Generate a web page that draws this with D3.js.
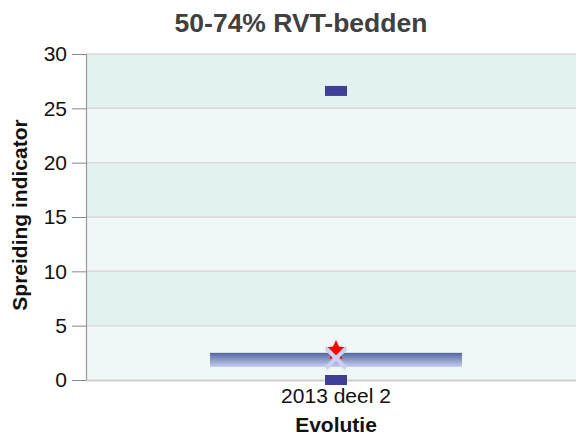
<!DOCTYPE html>
<html><head><meta charset="utf-8">
<script src="https://cdn.jsdelivr.net/npm/d3@7"></script>
<style>body{margin:0;background:#fff}svg{display:block}</style>
</head><body>
<script>
const categories = ["2013 deel 2"];
const rangeLow = [1.2];
const rangeHigh = [2.5];
const maxValue = [26.6];
const minValue = [0];
const starValue = [2.7];
const crossValue = [2.0];
const yTicks = [0,5,10,15,20,25,30];
const bands = [[0,5],[5,10],[10,15],[15,20],[20,25],[25,30]];

(function(){
const W=576,H=436;
const FF="'Liberation Sans', Arial, sans-serif";
const svg=d3.select("body").append("svg").attr("width",W).attr("height",H)
  .style("font-family",FF);
const pL=86,pR=586,pT=54,pB=380;
const x=d3.scaleBand().domain(categories).range([pL,pR]);
const y=d3.scaleLinear().domain([0,30]).range([pB,pT]);

const defs=svg.append("defs");
const g=defs.append("linearGradient").attr("id","bar").attr("x1",0).attr("y1",0).attr("x2",0).attr("y2",1);
g.append("stop").attr("offset","0%").attr("stop-color","#56679f");
g.append("stop").attr("offset","100%").attr("stop-color","#c6cef0");

svg.append("g").selectAll("rect").data(bands).join("rect")
  .attr("x",pL).attr("width",pR-pL)
  .attr("y",d=>y(d[1])).attr("height",d=>y(d[0])-y(d[1]))
  .attr("fill",(d,i)=>i%2===0?"#eff8f7":"#e1f2f0");

svg.append("g").selectAll("line").data(yTicks.filter(t=>t>0)).join("line")
  .attr("x1",pL).attr("x2",pR).attr("y1",d=>y(d)).attr("y2",d=>y(d))
  .attr("stroke","#d9d9d9").attr("stroke-width",1.5);

const ya=svg.append("g").attr("transform",`translate(${pL},0)`)
  .call(d3.axisLeft(y).tickValues(yTicks).tickSize(14).tickPadding(5));
ya.select(".domain").attr("stroke","#999").attr("stroke-width",1.2);
ya.selectAll(".tick line").attr("stroke","#888");
ya.selectAll("text").attr("font-size",21).attr("fill","#111").attr("font-family",FF);

const xa=svg.append("g").attr("transform",`translate(0,${pB})`)
  .call(d3.axisBottom(x).tickSize(0).tickPadding(8));
xa.select(".domain").attr("stroke","#d0d0d0").attr("stroke-width",2);
xa.selectAll("text").attr("font-size",21).attr("fill","#111").attr("font-family",FF);

const cx=d=>x(d)+x.bandwidth()/2;
const bw=252;
svg.append("g").selectAll("rect").data(categories).join("rect")
  .attr("x",d=>cx(d)-bw/2).attr("width",bw)
  .attr("y",(d,i)=>y(rangeHigh[i])).attr("height",(d,i)=>y(rangeLow[i])-y(rangeHigh[i]))
  .attr("fill","url(#bar)");

const mk=svg.append("g");
mk.selectAll(".mx").data(categories).join("rect").attr("class","mx")
  .attr("x",d=>cx(d)-11).attr("width",22).attr("y",(d,i)=>y(maxValue[i])-5).attr("height",10).attr("fill","#3f3f99");
mk.selectAll(".mn").data(categories).join("rect").attr("class","mn")
  .attr("x",d=>cx(d)-11).attr("width",22).attr("y",(d,i)=>y(minValue[i])-5).attr("height",10).attr("fill","#3f3f99");

const fatStar={draw(ctx,size){const R=Math.sqrt(size),r=R*0.48;
  for(let k=0;k<10;k++){const a=-Math.PI/2+k*Math.PI/5,rr=k%2?r:R;
    const px=rr*Math.cos(a),py=rr*Math.sin(a); k?ctx.lineTo(px,py):ctx.moveTo(px,py);} ctx.closePath();}};
svg.append("g").selectAll("path").data(categories).join("path")
  .attr("d",d3.symbol().type(fatStar).size(115)).attr("transform",(d,i)=>`translate(${cx(d)},${y(starValue[i])})`)
  .attr("fill","#ff0000");
svg.append("g").selectAll("path").data(categories).join("path")
  .attr("d",(d,i)=>{const c=cx(d),yy=y(crossValue[i]),s=10;return `M${c-s},${yy-s}L${c+s},${yy+s}M${c-s},${yy+s}L${c+s},${yy-s}`;})
  .attr("stroke","#cdd0ee").attr("stroke-width",4).attr("fill","none");

svg.append("text").attr("x",301).attr("y",32).attr("text-anchor","middle")
  .attr("font-size",26.5).attr("font-weight","bold").attr("fill","#404040").text("50-74% RVT-bedden");
svg.append("text").attr("x",cx(categories[0])).attr("y",432).attr("text-anchor","middle")
  .attr("font-size",21).attr("font-weight","bold").attr("fill","#111").text("Evolutie");
svg.append("text").attr("transform",`translate(27,215) rotate(-90)`).attr("text-anchor","middle")
  .attr("font-size",21).attr("font-weight","bold").attr("fill","#111").text("Spreiding indicator");
})();
</script>
</body></html>
